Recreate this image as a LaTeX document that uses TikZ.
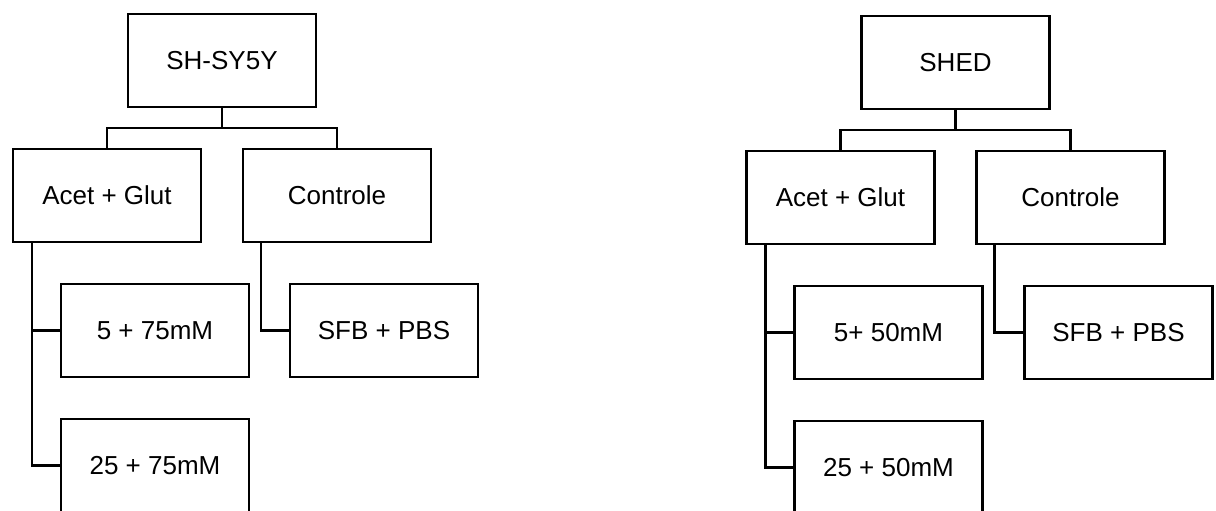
\documentclass[tikz,border=0pt]{standalone}
\usepackage{fontspec}
\setmainfont{Liberation Sans}
\begin{document}
\begin{tikzpicture}[x=1pt,y=-1pt,
  box/.style={draw, line width=2.2pt, minimum width=188pt, minimum height=93pt, inner sep=0pt, font=\fontsize{26}{31}\selectfont},
  conn/.style={line width=2.2pt}]
\useasboundingbox (0,0) rectangle (1216,511);
% left tree
\node[box] (r1) at (222,60.5) {SH-SY5Y};
\node[box] (a1) at (107,195.5) {Acet + Glut};
\node[box] (c1) at (337,195.5) {Controle};
\node[box] (p1) at (155,330.5) {5 + 75mM};
\node[box] (q1) at (155,465.5) {25 + 75mM};
\node[box] (s1) at (384,330.5) {SFB + PBS};
\draw[conn] (r1.south) -- ++(0,20);
\draw[conn] (a1.north) -- ++(0,-20) -| (c1.north);
\coordinate (av1) at ([xshift=20pt]a1.south west);
\draw[conn] (av1) |- (q1.west);
\draw[conn] (p1.west) -- (p1.west -| av1);
\coordinate (cv1) at ([xshift=19pt]c1.south west);
\draw[conn] (cv1) |- (s1.west);
% right tree
\node[box] (r2) at (955.5,62.5) {SHED};
\node[box] (a2) at (840.5,197.5) {Acet + Glut};
\node[box] (c2) at (1070.5,197.5) {Controle};
\node[box] (p2) at (888.5,332.5) {5+ 50mM};
\node[box] (q2) at (888.5,467.5) {25 + 50mM};
\node[box] (s2) at (1118.5,332.5) {SFB + PBS};
\draw[conn] (r2.south) -- ++(0,20);
\draw[conn] (a2.north) -- ++(0,-20) -| (c2.north);
\coordinate (av2) at ([xshift=20pt]a2.south west);
\draw[conn] (av2) |- (q2.west);
\draw[conn] (p2.west) -- (p2.west -| av2);
\coordinate (cv2) at ([xshift=19pt]c2.south west);
\draw[conn] (cv2) |- (s2.west);
\end{tikzpicture}
\end{document}
